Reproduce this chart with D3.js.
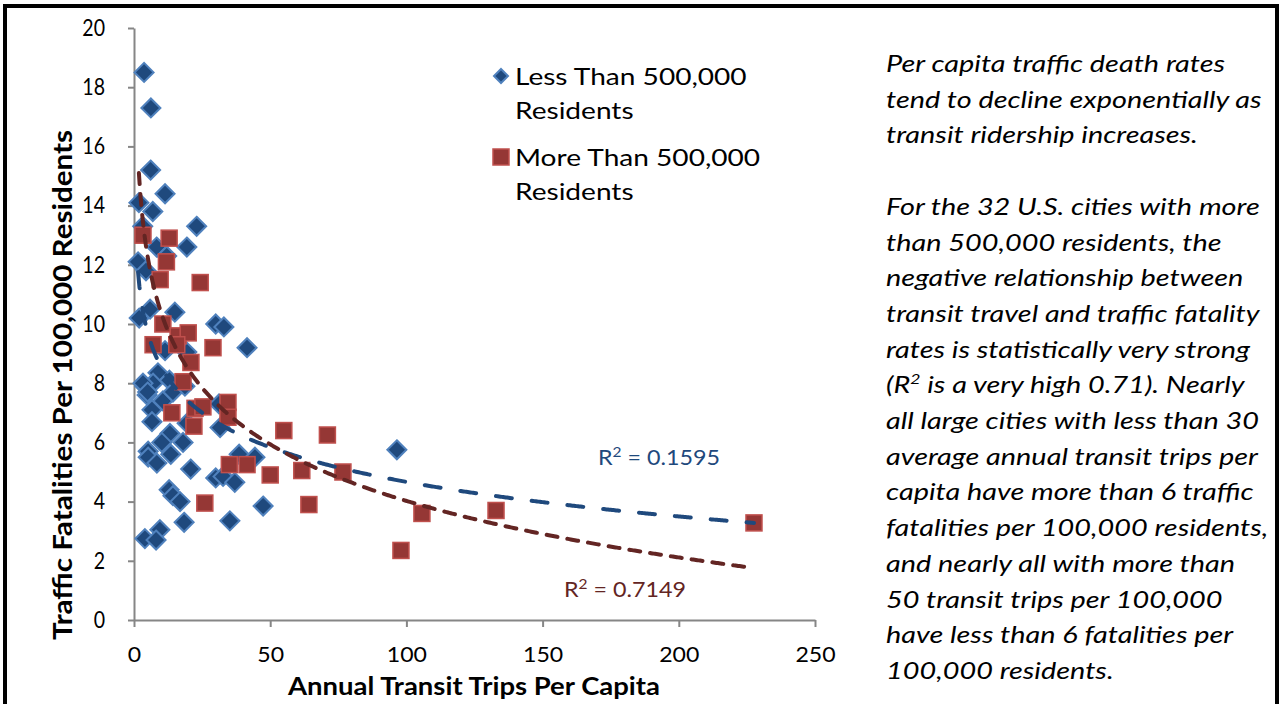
<!DOCTYPE html>
<meta charset="utf-8">
<style>
body { margin: 0; background: #fff; }
svg text { font-family: Lato, "Open Sans", sans-serif; }
.axis path, .axis line { stroke: #868686; stroke-width: 2px; }
.axis text { fill: #000; font-family: Lato, sans-serif; }
.small { fill: #1f497d; stroke: #4f81bd; stroke-width: 2px; }
.large { fill: #953735; stroke: #c0504d; stroke-width: 1.5px; }
.trend { fill: none; stroke-width: 4px; stroke-linecap: round; }
.note { font-size: 23px; font-style: italic; fill: #000; }
</style>
<svg width="1282" height="704"></svg>

<script src="https://cdnjs.cloudflare.com/ajax/libs/d3/7.8.5/d3.min.js"></script>
<script>
// cities under 500,000 residents: transit trips per capita, fatalities per 100k
const smallX = [3.7, 6.2, 6.1, 11.4, 1.8, 6.9, 23, 3.2, 8.3, 19.4, 12.0, 1.5, 4.4, 5.9, 15, 1.9,
    30, 33, 11.4, 19.4, 41.5, 8.8, 4.0, 7.0, 13, 4.8, 10.6, 14.3, 18.7, 31.2, 31.6, 19.5,
    6.6, 6.6, 13.2, 10.2, 18, 5.2, 5.2, 8.4, 13.5, 20.8, 38.6, 44.4, 30, 32.7, 37, 12.9,
    14.3, 16.9, 47.4, 18.4, 35.2, 4.0, 9.5, 8.1, 96.5, 3.3, 5.0];
const smallY = [18.5, 17.3, 15.2, 14.4, 14.1, 13.8, 13.3, 13.3, 12.6, 12.6, 12.3, 12.1, 11.8, 10.5, 10.4, 10.2,
    10.0, 9.9, 9.1, 9.05, 9.2, 8.35, 7.9, 8.0, 8.1, 7.6, 7.4, 7.7, 7.9, 7.3, 6.5, 6.65,
    7.1, 6.7, 6.3, 6.0, 6.0, 5.7, 5.5, 5.3, 5.6, 5.1, 5.6, 5.5, 4.8, 4.85, 4.65, 4.4,
    4.2, 4.0, 3.85, 3.3, 3.35, 2.75, 3.05, 2.7, 5.75, 8.0, 7.7];

// cities over 500,000 residents
const largeX = [3.3, 12.9, 11.9, 9.6, 24.3, 10.6, 7.0, 16.2, 19.9, 15.7, 29, 20.9, 18, 22.4, 25.3, 34.5,
    34.5, 13.9, 22, 55, 71, 35, 41.5, 50, 61.6, 26, 64.2, 76.7, 105.7, 132.9, 98, 227.6];
const largeY = [13.0, 12.9, 12.1, 11.5, 11.4, 10.0, 9.3, 9.6, 9.7, 9.3, 9.2, 8.7, 8.05, 7.15, 7.2, 7.35,
    6.85, 7.0, 6.55, 6.4, 6.25, 5.25, 5.25, 4.9, 5.05, 3.95, 3.9, 5.0, 3.6, 3.7, 2.35, 3.28];

// logarithmic trendlines y = a + b ln(x), drawn from x0 to x1
const trendSmall = [12.43, -1.686, 1.5, 227.6];
const trendLarge = [16.72, -2.757, 1.8, 227.6];

const xTicks = [0, 50, 100, 150, 200, 250];
const yTicks = [0, 2, 4, 6, 8, 10, 12, 14, 16, 18, 20];

const noteLines = [
    'Per capita traffic death rates',
    'tend to decline exponentially as',
    'transit ridership increases.',
    '',
    'For the 32 U.S. cities with more',
    'than 500,000 residents, the',
    'negative relationship between',
    'transit travel and traffic fatality',
    'rates is statistically very strong',
    '(R2 is a very high 0.71). Nearly',
    'all large cities with less than 30',
    'average annual transit trips per',
    'capita have more than 6 traffic',
    'fatalities per 100,000 residents,',
    'and nearly all with more than',
    '50 transit trips per 100,000',
    'have less than 6 fatalities per',
    '100,000 residents.'
];

let svg = d3.select('svg');

let x = d3.scaleLinear().domain([0, 250]).range([134, 815]);
let y = d3.scaleLinear().domain([0, 20]).range([620, 28]);

// the source picture has wider type than our fonts; stretch text horizontally
function stretch(sel, k) {
    sel.each(function() {
        let w = this.getComputedTextLength();
        d3.select(this).attr('textLength', w * k).attr('lengthAdjust', 'spacingAndGlyphs');
    });
}

// frame
svg.append('rect')
    .attr('x', 5).attr('y', 6)
    .attr('width', 1272).attr('height', 720)
    .attr('fill', 'none').attr('stroke', '#000').attr('stroke-width', 4);

let gx = svg.append('g').attr('class', 'axis')
    .attr('transform', 'translate(0,620)')
    .call(d3.axisBottom(x).tickValues(xTicks).tickSize(7).tickPadding(19).tickSizeOuter(0));
gx.selectAll('text').attr('font-size', 22).attr('dy', '0.71em');
stretch(gx.selectAll('text'), 1.05);

let gy = svg.append('g').attr('class', 'axis')
    .attr('transform', 'translate(134,0)')
    .call(d3.axisLeft(y).tickValues(yTicks).tickSize(6).tickPadding(23).tickSizeOuter(0));
gy.selectAll('text').attr('font-size', 23);
stretch(gy.selectAll('text'), 0.85);

let xt = svg.append('text')
    .attr('x', 474).attr('y', 695)
    .attr('text-anchor', 'middle')
    .attr('font-size', 25).attr('font-weight', 'bold')
    .text('Annual Transit Trips Per Capita');
stretch(xt, 372 / xt.node().getComputedTextLength());

let yt = svg.append('text')
    .attr('transform', 'translate(72,385) rotate(-90)')
    .attr('text-anchor', 'middle')
    .attr('font-size', 26).attr('font-weight', 'bold')
    .text('Traffic Fatalities Per 100,000 Residents');
stretch(yt, 510 / yt.node().getComputedTextLength());

let diamond = 'M0,-9.5L9.5,0L0,9.5L-9.5,0Z';

svg.append('g')
    .selectAll('path')
    .data(d3.zip(smallX, smallY))
    .enter().append('path')
        .attr('class', 'small')
        .attr('d', diamond)
        .attr('transform', d => `translate(${x(d[0])},${y(d[1])})`);

svg.append('g')
    .selectAll('rect')
    .data(d3.zip(largeX, largeY))
    .enter().append('rect')
        .attr('class', 'large')
        .attr('x', d => x(d[0]) - 8)
        .attr('y', d => y(d[1]) - 8)
        .attr('width', 16).attr('height', 16);

let line = d3.line().x(d => x(d[0])).y(d => y(d[1]));
function trendPoints(t) {
    return d3.range(t[2], t[3], 0.5).concat([t[3]]).map(v => [v, t[0] + t[1] * Math.log(v)]);
}

svg.append('path')
    .datum(trendPoints(trendSmall))
    .attr('class', 'trend')
    .attr('stroke', '#1f497d')
    .attr('stroke-dasharray', '16 20')
    .attr('d', line);

svg.append('path')
    .datum(trendPoints(trendLarge))
    .attr('class', 'trend')
    .attr('stroke', '#632523')
    .attr('stroke-dasharray', '11 10')
    .attr('d', line);

function r2Label(xp, yp, color, value) {
    let t = svg.append('text').attr('x', xp).attr('y', yp)
        .attr('font-size', 21).attr('fill', color);
    t.append('tspan').text('R');
    t.append('tspan').attr('font-size', 14).attr('dy', -8).text('2');
    t.append('tspan').attr('dy', 8).text(' = ' + value);
    t.attr('textLength', 122).attr('lengthAdjust', 'spacingAndGlyphs');
}
r2Label(598, 465, '#1f497d', '0.1595');
r2Label(564, 597, '#632523', '0.7149');

// legend
let legend = svg.append('g');
legend.append('path').attr('class', 'small').attr('d', 'M0,-7L7,0L0,7L-7,0Z')
    .attr('transform', 'translate(501,76)');
legend.append('rect').attr('class', 'large')
    .attr('x', 493).attr('y', 149).attr('width', 16).attr('height', 16);
[['Less Than 500,000', 85], ['Residents', 119], ['More Than 500,000', 166], ['Residents', 200]]
    .forEach(([s, yy]) => {
        let t = legend.append('text').attr('x', 515).attr('y', yy)
            .attr('font-size', 23).text(s);
        stretch(t, 1.22);
    });

// side note
let note = svg.append('g');
noteLines.forEach((s, i) => {
    let t = note.append('text').attr('class', 'note')
        .attr('x', 886).attr('y', 72 + i * 35.7);
    if (s.startsWith('(R2')) {
        t.append('tspan').text('(R');
        t.append('tspan').attr('font-size', 14).attr('dy', -9).text('2');
        t.append('tspan').attr('dy', 9).text(s.slice(3));
    } else {
        t.text(s);
    }
});
let first = note.select('text').node().getComputedTextLength();
stretch(note.selectAll('text').filter(function() { return this.textContent.length > 0; }), 339 / first);
</script>
